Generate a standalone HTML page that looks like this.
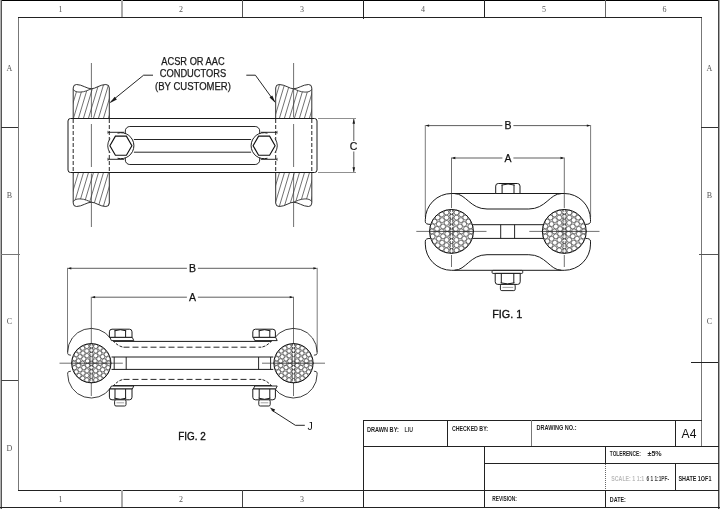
<!DOCTYPE html><html><head><meta charset="utf-8"><style>html,body{margin:0;padding:0;background:#fff;overflow:hidden;}svg{display:block;}</style></head><body><svg style="filter:grayscale(1)" width="720" height="509" viewBox="0 0 720 509"><defs><clipPath id="hTL"><path d="M73.2,118.5 V90 C74.5,91.6 77,92.1 80,92.1 C85,92.1 88.5,89.8 91.4,88.8 C95.5,88.8 100,84.5 105.8,84.5 Q109.3,84.5 109.3,88 V118.5 Z" /></clipPath><clipPath id="hBL"><path d="M73.2,118.5 V90 C74.5,91.6 77,92.1 80,92.1 C85,92.1 88.5,89.8 91.4,88.8 C95.5,88.8 100,84.5 105.8,84.5 Q109.3,84.5 109.3,88 V118.5 Z" transform="matrix(1,0,0,-1,0,291.0)"/></clipPath><clipPath id="hTR"><path d="M73.2,118.5 V90 C74.5,91.6 77,92.1 80,92.1 C85,92.1 88.5,89.8 91.4,88.8 C95.5,88.8 100,84.5 105.8,84.5 Q109.3,84.5 109.3,88 V118.5 Z" transform="matrix(-1,0,0,1,385.0,0)"/></clipPath><clipPath id="hBR"><path d="M73.2,118.5 V90 C74.5,91.6 77,92.1 80,92.1 C85,92.1 88.5,89.8 91.4,88.8 C95.5,88.8 100,84.5 105.8,84.5 Q109.3,84.5 109.3,88 V118.5 Z" transform="matrix(-1,0,0,-1,385.0,291.0)"/></clipPath></defs><rect width="720" height="509" fill="#fff"/><rect x="0" y="0" width="720" height="1" fill="#000"/>
<rect x="0" y="0" width="1" height="509" fill="#b0b0b0"/>
<rect x="1" y="0" width="1" height="509" fill="#555"/>
<rect x="718" y="0" width="1" height="509" fill="#444"/>
<rect x="719" y="0" width="1" height="509" fill="#aaa"/>
<rect x="0" y="507" width="720" height="1" fill="#222"/>
<rect x="18" y="17" width="1" height="474" fill="#777"/>
<rect x="701" y="17" width="1" height="430" fill="#777"/>
<rect x="18" y="17" width="684" height="1" fill="#222"/>
<rect x="18" y="490" width="701" height="1" fill="#222"/>
<rect x="121" y="0" width="2" height="17" fill="#aaa"/>
<rect x="242" y="0" width="1" height="17" fill="#555"/>
<rect x="363" y="0" width="1" height="19" fill="#222"/>
<rect x="484" y="0" width="1" height="17" fill="#222"/>
<rect x="605" y="0" width="1" height="17" fill="#666"/>
<rect x="121" y="490" width="2" height="17" fill="#aaa"/>
<rect x="242" y="490" width="1" height="17" fill="#444"/>
<rect x="1" y="127" width="17" height="1" fill="#333"/>
<rect x="1" y="254" width="19" height="1" fill="#777"/>
<rect x="1" y="380" width="17" height="1" fill="#444"/>
<rect x="701" y="127" width="17" height="1" fill="#333"/>
<rect x="699" y="254" width="19" height="1" fill="#555"/>
<rect x="691" y="362" width="27" height="1" fill="#222"/>
<text x="60.5" y="12" font-family="Liberation Serif" font-size="8" text-anchor="middle" fill="#555" font-weight="normal" >1</text>
<text x="181" y="12" font-family="Liberation Serif" font-size="8" text-anchor="middle" fill="#555" font-weight="normal" >2</text>
<text x="302" y="12" font-family="Liberation Serif" font-size="8" text-anchor="middle" fill="#555" font-weight="normal" >3</text>
<text x="423" y="12" font-family="Liberation Serif" font-size="8" text-anchor="middle" fill="#555" font-weight="normal" >4</text>
<text x="544" y="12" font-family="Liberation Serif" font-size="8" text-anchor="middle" fill="#555" font-weight="normal" >5</text>
<text x="664.5" y="12" font-family="Liberation Serif" font-size="8" text-anchor="middle" fill="#555" font-weight="normal" >6</text>
<text x="60.5" y="502" font-family="Liberation Serif" font-size="8" text-anchor="middle" fill="#555" font-weight="normal" >1</text>
<text x="181" y="502" font-family="Liberation Serif" font-size="8" text-anchor="middle" fill="#555" font-weight="normal" >2</text>
<text x="302" y="502" font-family="Liberation Serif" font-size="8" text-anchor="middle" fill="#555" font-weight="normal" >3</text>
<text x="9.5" y="71" font-family="Liberation Serif" font-size="8" text-anchor="middle" fill="#555" font-weight="normal" >A</text>
<text x="9.5" y="197.5" font-family="Liberation Serif" font-size="8" text-anchor="middle" fill="#555" font-weight="normal" >B</text>
<text x="9.5" y="324" font-family="Liberation Serif" font-size="8" text-anchor="middle" fill="#555" font-weight="normal" >C</text>
<text x="9.5" y="451" font-family="Liberation Serif" font-size="8" text-anchor="middle" fill="#555" font-weight="normal" >D</text>
<text x="709.5" y="71" font-family="Liberation Serif" font-size="8" text-anchor="middle" fill="#555" font-weight="normal" >A</text>
<text x="709.5" y="197.5" font-family="Liberation Serif" font-size="8" text-anchor="middle" fill="#555" font-weight="normal" >B</text>
<text x="709.5" y="324" font-family="Liberation Serif" font-size="8" text-anchor="middle" fill="#555" font-weight="normal" >C</text>
<rect x="363" y="420" width="339" height="1" fill="#222"/>
<rect x="363" y="420" width="1" height="88" fill="#222"/>
<rect x="447" y="420" width="1" height="26" fill="#222"/>
<rect x="531" y="420" width="1" height="26" fill="#777"/>
<rect x="675" y="420" width="1" height="26" fill="#222"/>
<rect x="363" y="446" width="356" height="1" fill="#222"/>
<rect x="484" y="446" width="1" height="62" fill="#222"/>
<rect x="484" y="463" width="235" height="1" fill="#222"/>
<rect x="605" y="446" width="1" height="18" fill="#222"/>
<rect x="605" y="490" width="1" height="18" fill="#222"/>
<rect x="675" y="463" width="1" height="27" fill="#222"/>
<line x1="605.5" y1="464" x2="605.5" y2="490" stroke="#666" stroke-width="1" stroke-dasharray="1,1"/>
<text x="367" y="432.2" font-family="Liberation Sans" font-size="6.3" text-anchor="start" fill="#1e1e1e" font-weight="bold" textLength="31.8" lengthAdjust="spacingAndGlyphs" >DRAWN BY:</text>
<text x="404.5" y="432.2" font-family="Liberation Sans" font-size="6.3" text-anchor="start" fill="#444" font-weight="bold" textLength="8.5" lengthAdjust="spacingAndGlyphs" >LIU</text>
<text x="452" y="431.3" font-family="Liberation Sans" font-size="6.3" text-anchor="start" fill="#1e1e1e" font-weight="bold" textLength="36" lengthAdjust="spacingAndGlyphs" >CHECKED BY:</text>
<text x="536.5" y="430.2" font-family="Liberation Sans" font-size="6.3" text-anchor="start" fill="#1e1e1e" font-weight="bold" textLength="40" lengthAdjust="spacingAndGlyphs" >DRAWING NO.:</text>
<text x="681.6" y="438.3" font-family="Liberation Sans" font-size="12.8" text-anchor="start" fill="#111" font-weight="normal" textLength="14.8" lengthAdjust="spacingAndGlyphs" >A4</text>
<text x="609.8" y="455.9" font-family="Liberation Sans" font-size="6.3" text-anchor="start" fill="#1e1e1e" font-weight="bold" textLength="31" lengthAdjust="spacingAndGlyphs" >TOLERENCE:</text>
<text x="647.5" y="455.9" font-family="Liberation Sans" font-size="6.3" text-anchor="start" fill="#1e1e1e" font-weight="bold" textLength="14.2" lengthAdjust="spacingAndGlyphs" >±5%</text>
<text x="678.4" y="481.4" font-family="Liberation Sans" font-size="7.6" text-anchor="start" fill="#1e1e1e" font-weight="bold" textLength="33" lengthAdjust="spacingAndGlyphs" >SHATE 1OF1</text>
<text x="611.3" y="481.2" font-family="Liberation Sans" font-size="6.4" text-anchor="start" fill="#bbb" font-weight="bold" textLength="33" lengthAdjust="spacingAndGlyphs" >SCALE: 1 1:1</text>
<text x="646.5" y="481.2" font-family="Liberation Sans" font-size="6.4" text-anchor="start" fill="#444" font-weight="bold" textLength="22.5" lengthAdjust="spacingAndGlyphs" >6 1 1:1PF-</text>
<text x="492.2" y="500.5" font-family="Liberation Sans" font-size="6.3" text-anchor="start" fill="#1e1e1e" font-weight="bold" textLength="24.8" lengthAdjust="spacingAndGlyphs" >REVISION:</text>
<text x="609.8" y="501.7" font-family="Liberation Sans" font-size="7.0" text-anchor="start" fill="#1e1e1e" font-weight="bold" textLength="16" lengthAdjust="spacingAndGlyphs" >DATE:</text>
<g ><path d="M73.2,118.5 V88 Q73.2,84.5 76.5,84.5 C82,84.5 87,88.8 91.4,88.8 C95.5,88.8 100,84.5 105.8,84.5 Q109.3,84.5 109.3,88 V118.5" stroke="#1a1a1a" stroke-width="0.9" fill="white"/><path d="M73.4,89.5 C74.5,91.6 77,92.1 80,92.1 C85,92.1 88.5,89.8 91.4,88.8" stroke="#1a1a1a" stroke-width="0.8" fill="none"/></g>
<g transform="matrix(1,0,0,-1,0,291.0)"><path d="M73.2,118.5 V88 Q73.2,84.5 76.5,84.5 C82,84.5 87,88.8 91.4,88.8 C95.5,88.8 100,84.5 105.8,84.5 Q109.3,84.5 109.3,88 V118.5" stroke="#1a1a1a" stroke-width="0.9" fill="white"/><path d="M73.4,89.5 C74.5,91.6 77,92.1 80,92.1 C85,92.1 88.5,89.8 91.4,88.8" stroke="#1a1a1a" stroke-width="0.8" fill="none"/></g>
<g transform="matrix(-1,0,0,1,385.0,0)"><path d="M73.2,118.5 V88 Q73.2,84.5 76.5,84.5 C82,84.5 87,88.8 91.4,88.8 C95.5,88.8 100,84.5 105.8,84.5 Q109.3,84.5 109.3,88 V118.5" stroke="#1a1a1a" stroke-width="0.9" fill="white"/><path d="M73.4,89.5 C74.5,91.6 77,92.1 80,92.1 C85,92.1 88.5,89.8 91.4,88.8" stroke="#1a1a1a" stroke-width="0.8" fill="none"/></g>
<g transform="matrix(-1,0,0,-1,385.0,291.0)"><path d="M73.2,118.5 V88 Q73.2,84.5 76.5,84.5 C82,84.5 87,88.8 91.4,88.8 C95.5,88.8 100,84.5 105.8,84.5 Q109.3,84.5 109.3,88 V118.5" stroke="#1a1a1a" stroke-width="0.9" fill="white"/><path d="M73.4,89.5 C74.5,91.6 77,92.1 80,92.1 C85,92.1 88.5,89.8 91.4,88.8" stroke="#1a1a1a" stroke-width="0.8" fill="none"/></g>
<path d="M63.40,118.5 L73.75,84 M68.40,118.5 L78.75,84 M73.40,118.5 L83.75,84 M78.40,118.5 L88.75,84 M83.40,118.5 L93.75,84 M88.40,118.5 L98.75,84 M93.40,118.5 L103.75,84 M98.40,118.5 L108.75,84 M103.40,118.5 L113.75,84 M108.40,118.5 L118.75,84" stroke="#333" stroke-width="0.7" clip-path="url(#hTL)"/>
<path d="M63.15,207 L73.50,172.5 M68.15,207 L78.50,172.5 M73.15,207 L83.50,172.5 M78.15,207 L88.50,172.5 M83.15,207 L93.50,172.5 M88.15,207 L98.50,172.5 M93.15,207 L103.50,172.5 M98.15,207 L108.50,172.5 M103.15,207 L113.50,172.5 M108.15,207 L118.50,172.5" stroke="#333" stroke-width="0.7" clip-path="url(#hBL)"/>
<path d="M264.35,118.5 L274.70,84 M269.35,118.5 L279.70,84 M274.35,118.5 L284.70,84 M279.35,118.5 L289.70,84 M284.35,118.5 L294.70,84 M289.35,118.5 L299.70,84 M294.35,118.5 L304.70,84 M299.35,118.5 L309.70,84 M304.35,118.5 L314.70,84 M309.35,118.5 L319.70,84" stroke="#333" stroke-width="0.7" clip-path="url(#hTR)"/>
<path d="M264.15,207 L274.50,172.5 M269.15,207 L279.50,172.5 M274.15,207 L284.50,172.5 M279.15,207 L289.50,172.5 M284.15,207 L294.50,172.5 M289.15,207 L299.50,172.5 M294.15,207 L304.50,172.5 M299.15,207 L309.50,172.5 M304.15,207 L314.50,172.5 M309.15,207 L319.50,172.5" stroke="#333" stroke-width="0.7" clip-path="url(#hBR)"/>
<line x1="91.4" y1="63" x2="91.4" y2="117.5" stroke="#333" stroke-width="0.7"/>
<line x1="91.4" y1="124" x2="91.4" y2="167" stroke="#333" stroke-width="0.7"/>
<line x1="91.4" y1="173.5" x2="91.4" y2="227" stroke="#333" stroke-width="0.7"/>
<line x1="293.6" y1="63" x2="293.6" y2="117.5" stroke="#333" stroke-width="0.7"/>
<line x1="293.6" y1="124" x2="293.6" y2="167" stroke="#333" stroke-width="0.7"/>
<line x1="293.6" y1="173.5" x2="293.6" y2="227" stroke="#333" stroke-width="0.7"/>
<rect x="68" y="118.5" width="249" height="54" rx="2.5" stroke="#1a1a1a" stroke-width="1.0" fill="none"/>
<line x1="73.2" y1="119" x2="73.2" y2="172" stroke="#1a1a1a" stroke-width="0.95" stroke-dasharray="4,2"/>
<line x1="109.3" y1="119" x2="109.3" y2="172" stroke="#1a1a1a" stroke-width="0.95" stroke-dasharray="4,2"/>
<line x1="275.7" y1="119" x2="275.7" y2="172" stroke="#1a1a1a" stroke-width="0.95" stroke-dasharray="4,2"/>
<line x1="311.8" y1="119" x2="311.8" y2="172" stroke="#1a1a1a" stroke-width="0.95" stroke-dasharray="4,2"/>
<rect x="125.3" y="126.5" width="134.4" height="38" rx="4.5" stroke="#1a1a1a" stroke-width="0.95" fill="none"/>
<circle cx="120.9" cy="145.7" r="13" fill="white" stroke="none"/>
<path d="M117.54,133.14 A13,13 0 1 1 117.54,158.26" stroke="#1a1a1a" stroke-width="1.0" fill="none" />
<path d="M110.00,152.78 A13,13 0 0 1 110.00,138.62" stroke="#1a1a1a" stroke-width="0.9" fill="none" />
<polygon points="131.90,145.70 126.40,155.23 115.40,155.23 109.90,145.70 115.40,136.17 126.40,136.17" stroke="#111" stroke-width="1.15" fill="none"/>
<line x1="107.9" y1="132.3" x2="124.10000000000001" y2="132.3" stroke="#1a1a1a" stroke-width="0.95"/>
<line x1="107.9" y1="159.3" x2="124.10000000000001" y2="159.3" stroke="#1a1a1a" stroke-width="0.95"/>
<line x1="107.9" y1="130.8" x2="107.9" y2="133.8" stroke="#1a1a1a" stroke-width="0.6"/>
<line x1="107.9" y1="157.8" x2="107.9" y2="160.8" stroke="#1a1a1a" stroke-width="0.6"/>
<circle cx="264.1" cy="145.7" r="13" fill="white" stroke="none"/>
<path d="M267.46,133.14 A13,13 0 1 0 267.46,158.26" stroke="#1a1a1a" stroke-width="1.0" fill="none" />
<path d="M275.00,152.78 A13,13 0 0 0 275.00,138.62" stroke="#1a1a1a" stroke-width="0.9" fill="none" />
<polygon points="275.10,145.70 269.60,155.23 258.60,155.23 253.10,145.70 258.60,136.17 269.60,136.17" stroke="#111" stroke-width="1.15" fill="none"/>
<line x1="277.1" y1="132.3" x2="260.90000000000003" y2="132.3" stroke="#1a1a1a" stroke-width="0.95"/>
<line x1="277.1" y1="159.3" x2="260.90000000000003" y2="159.3" stroke="#1a1a1a" stroke-width="0.95"/>
<line x1="277.1" y1="130.8" x2="277.1" y2="133.8" stroke="#1a1a1a" stroke-width="0.6"/>
<line x1="277.1" y1="157.8" x2="277.1" y2="160.8" stroke="#1a1a1a" stroke-width="0.6"/>
<line x1="133.9" y1="139.5" x2="251.1" y2="139.5" stroke="#1a1a1a" stroke-width="0.95"/>
<line x1="133.9" y1="152.2" x2="251.1" y2="152.2" stroke="#1a1a1a" stroke-width="0.95"/>
<path d="M153,75.2 L143.6,75.2 L110.5,102" stroke="#1a1a1a" stroke-width="0.95" fill="none" />
<path d="M109.60,103.20 L114.69,96.80 L116.86,99.43 Z" fill="#1a1a1a" stroke="none"/>
<path d="M246.3,75.2 L255.4,75.2 L274.6,101.7" stroke="#1a1a1a" stroke-width="0.95" fill="none" />
<path d="M275.60,103.00 L269.52,97.53 L272.27,95.53 Z" fill="#1a1a1a" stroke="none"/>
<text x="193" y="64.7" font-family="Liberation Sans" font-size="10" text-anchor="middle" fill="#1a1a1a" font-weight="normal" textLength="63.4" lengthAdjust="spacingAndGlyphs" stroke="#1a1a1a" stroke-width="0.25">ACSR OR AAC</text>
<text x="193" y="77.4" font-family="Liberation Sans" font-size="10" text-anchor="middle" fill="#1a1a1a" font-weight="normal" textLength="66.6" lengthAdjust="spacingAndGlyphs" stroke="#1a1a1a" stroke-width="0.25">CONDUCTORS</text>
<text x="193" y="89.9" font-family="Liberation Sans" font-size="10" text-anchor="middle" fill="#1a1a1a" font-weight="normal" textLength="75.8" lengthAdjust="spacingAndGlyphs" stroke="#1a1a1a" stroke-width="0.25">(BY CUSTOMER)</text>
<line x1="318" y1="118.5" x2="356" y2="118.5" stroke="#444" stroke-width="0.6"/>
<line x1="318" y1="172.5" x2="356" y2="172.5" stroke="#444" stroke-width="0.6"/>
<line x1="353.8" y1="119" x2="353.8" y2="141" stroke="#1a1a1a" stroke-width="0.7"/>
<line x1="353.8" y1="151.5" x2="353.8" y2="172" stroke="#1a1a1a" stroke-width="0.7"/>
<path d="M353.80,118.80 L355.10,123.80 L352.50,123.80 Z" fill="#1a1a1a" stroke="none"/>
<path d="M353.80,172.20 L352.50,167.20 L355.10,167.20 Z" fill="#1a1a1a" stroke="none"/>
<text x="353.6" y="150.4" font-family="Liberation Sans" font-size="10.5" text-anchor="middle" fill="#111" font-weight="normal" stroke="#111" stroke-width="0.2">C</text>
<line x1="426.3" y1="125.6" x2="502.4" y2="125.6" stroke="#1a1a1a" stroke-width="0.7"/>
<line x1="513.4" y1="125.6" x2="589.6" y2="125.6" stroke="#1a1a1a" stroke-width="0.7"/>
<path d="M425.30,125.60 L429.10,124.45 L429.10,126.75 Z" fill="#1a1a1a" stroke="none"/>
<path d="M590.60,125.60 L586.80,126.75 L586.80,124.45 Z" fill="#1a1a1a" stroke="none"/>
<text x="507.9" y="129.4" font-family="Liberation Sans" font-size="10.5" text-anchor="middle" fill="#111" font-weight="normal" stroke="#111" stroke-width="0.25">B</text>
<line x1="452.5" y1="158" x2="502.4" y2="158" stroke="#1a1a1a" stroke-width="0.7"/>
<line x1="513.4" y1="158" x2="563.3" y2="158" stroke="#1a1a1a" stroke-width="0.7"/>
<path d="M451.50,158.00 L455.30,156.85 L455.30,159.15 Z" fill="#1a1a1a" stroke="none"/>
<path d="M564.30,158.00 L560.50,159.15 L560.50,156.85 Z" fill="#1a1a1a" stroke="none"/>
<text x="507.9" y="161.8" font-family="Liberation Sans" font-size="10.5" text-anchor="middle" fill="#111" font-weight="normal" stroke="#111" stroke-width="0.25">A</text>
<line x1="425.3" y1="125" x2="425.3" y2="217" stroke="#444" stroke-width="0.7"/>
<line x1="590.6" y1="125" x2="590.6" y2="217" stroke="#444" stroke-width="0.7"/>
<line x1="451.5" y1="157.5" x2="451.5" y2="208" stroke="#333" stroke-width="0.7"/>
<line x1="451.5" y1="255" x2="451.5" y2="267" stroke="#333" stroke-width="0.7"/>
<line x1="564.3" y1="157.5" x2="564.3" y2="208" stroke="#333" stroke-width="0.7"/>
<line x1="564.3" y1="255" x2="564.3" y2="267" stroke="#333" stroke-width="0.7"/>
<path d="M451.5,193.5 L564.3,193.5 M451.5,193.5 A26.2,26.2 0 0 0 425.3,219.7 L425.3,221.6 Q425.3,224.4 430.3,224.4 M564.3,193.5 A26.2,26.2 0 0 1 590.5,219.7 L590.5,221.6 Q590.5,224.4 585.5,224.4 M454.5,193.6 C466,193.6 470,209 487,209 L528.8,209 C545.8,209 549.8,193.6 561.3,193.6 M472.5,224.7 L543.3,224.7" stroke="#1a1a1a" stroke-width="1.0" fill="none" />
<path d="M451.5,270.3 L564.3,270.3 M451.5,270.3 A26.2,26.2 0 0 1 425.3,244.10000000000002 L425.3,241.20000000000002 Q425.3,238.4 430.3,238.4 M564.3,270.3 A26.2,26.2 0 0 0 590.5,244.10000000000002 L590.5,241.20000000000002 Q590.5,238.4 585.5,238.4 M454.5,270.2 C466,270.2 470,254.7 487,254.7 L528.8,254.7 C545.8,254.7 549.8,270.2 561.3,270.2 M472.5,238.4 L543.3,238.4" stroke="#1a1a1a" stroke-width="1.0" fill="none" />
<line x1="500.7" y1="224.7" x2="500.7" y2="238.4" stroke="#1a1a1a" stroke-width="0.95"/>
<line x1="514.6" y1="224.7" x2="514.6" y2="238.4" stroke="#1a1a1a" stroke-width="0.95"/>
<line x1="416.3" y1="231.4" x2="486.5" y2="231.4" stroke="#333" stroke-width="0.7"/>
<line x1="529.3" y1="231.4" x2="599.5" y2="231.4" stroke="#333" stroke-width="0.7"/>
<circle cx="451.5" cy="231.4" r="21.9" fill="#dddddd" stroke="none"/>
<g fill="white" stroke="#000" stroke-width="0.45"><circle cx="451.5" cy="231.4" r="2.4"/><circle cx="451.50" cy="226.50" r="2.4"/><circle cx="455.74" cy="228.95" r="2.4"/><circle cx="455.74" cy="233.85" r="2.4"/><circle cx="451.50" cy="236.30" r="2.4"/><circle cx="447.26" cy="233.85" r="2.4"/><circle cx="447.26" cy="228.95" r="2.4"/><circle cx="451.50" cy="221.60" r="2.4"/><circle cx="456.40" cy="222.91" r="2.4"/><circle cx="459.99" cy="226.50" r="2.4"/><circle cx="461.30" cy="231.40" r="2.4"/><circle cx="459.99" cy="236.30" r="2.4"/><circle cx="456.40" cy="239.89" r="2.4"/><circle cx="451.50" cy="241.20" r="2.4"/><circle cx="446.60" cy="239.89" r="2.4"/><circle cx="443.01" cy="236.30" r="2.4"/><circle cx="441.70" cy="231.40" r="2.4"/><circle cx="443.01" cy="226.50" r="2.4"/><circle cx="446.60" cy="222.91" r="2.4"/><circle cx="451.50" cy="216.70" r="2.4"/><circle cx="456.53" cy="217.59" r="2.4"/><circle cx="460.95" cy="220.14" r="2.4"/><circle cx="464.23" cy="224.05" r="2.4"/><circle cx="465.98" cy="228.85" r="2.4"/><circle cx="465.98" cy="233.95" r="2.4"/><circle cx="464.23" cy="238.75" r="2.4"/><circle cx="460.95" cy="242.66" r="2.4"/><circle cx="456.53" cy="245.21" r="2.4"/><circle cx="451.50" cy="246.10" r="2.4"/><circle cx="446.47" cy="245.21" r="2.4"/><circle cx="442.05" cy="242.66" r="2.4"/><circle cx="438.77" cy="238.75" r="2.4"/><circle cx="437.02" cy="233.95" r="2.4"/><circle cx="437.02" cy="228.85" r="2.4"/><circle cx="438.77" cy="224.05" r="2.4"/><circle cx="442.05" cy="220.14" r="2.4"/><circle cx="446.47" cy="217.59" r="2.4"/><circle cx="451.50" cy="211.80" r="2.4"/><circle cx="456.57" cy="212.47" r="2.4"/><circle cx="461.30" cy="214.43" r="2.4"/><circle cx="465.36" cy="217.54" r="2.4"/><circle cx="468.47" cy="221.60" r="2.4"/><circle cx="470.43" cy="226.33" r="2.4"/><circle cx="471.10" cy="231.40" r="2.4"/><circle cx="470.43" cy="236.47" r="2.4"/><circle cx="468.47" cy="241.20" r="2.4"/><circle cx="465.36" cy="245.26" r="2.4"/><circle cx="461.30" cy="248.37" r="2.4"/><circle cx="456.57" cy="250.33" r="2.4"/><circle cx="451.50" cy="251.00" r="2.4"/><circle cx="446.43" cy="250.33" r="2.4"/><circle cx="441.70" cy="248.37" r="2.4"/><circle cx="437.64" cy="245.26" r="2.4"/><circle cx="434.53" cy="241.20" r="2.4"/><circle cx="432.57" cy="236.47" r="2.4"/><circle cx="431.90" cy="231.40" r="2.4"/><circle cx="432.57" cy="226.33" r="2.4"/><circle cx="434.53" cy="221.60" r="2.4"/><circle cx="437.64" cy="217.54" r="2.4"/><circle cx="441.70" cy="214.43" r="2.4"/><circle cx="446.43" cy="212.47" r="2.4"/></g>
<circle cx="451.5" cy="231.4" r="21.9" fill="none" stroke="#000" stroke-width="0.9"/>
<line x1="429.1" y1="231.4" x2="473.9" y2="231.4" stroke="#222" stroke-width="0.8"/>
<line x1="450.5" y1="209.5" x2="450.5" y2="253.3" stroke="#222" stroke-width="0.55" stroke-dasharray="2.6,0.9"/>
<line x1="452.5" y1="209.5" x2="452.5" y2="253.3" stroke="#222" stroke-width="0.55" stroke-dasharray="2.6,0.9"/>
<circle cx="564.3" cy="231.4" r="21.9" fill="#dddddd" stroke="none"/>
<g fill="white" stroke="#000" stroke-width="0.45"><circle cx="564.3" cy="231.4" r="2.4"/><circle cx="564.30" cy="226.50" r="2.4"/><circle cx="568.54" cy="228.95" r="2.4"/><circle cx="568.54" cy="233.85" r="2.4"/><circle cx="564.30" cy="236.30" r="2.4"/><circle cx="560.06" cy="233.85" r="2.4"/><circle cx="560.06" cy="228.95" r="2.4"/><circle cx="564.30" cy="221.60" r="2.4"/><circle cx="569.20" cy="222.91" r="2.4"/><circle cx="572.79" cy="226.50" r="2.4"/><circle cx="574.10" cy="231.40" r="2.4"/><circle cx="572.79" cy="236.30" r="2.4"/><circle cx="569.20" cy="239.89" r="2.4"/><circle cx="564.30" cy="241.20" r="2.4"/><circle cx="559.40" cy="239.89" r="2.4"/><circle cx="555.81" cy="236.30" r="2.4"/><circle cx="554.50" cy="231.40" r="2.4"/><circle cx="555.81" cy="226.50" r="2.4"/><circle cx="559.40" cy="222.91" r="2.4"/><circle cx="564.30" cy="216.70" r="2.4"/><circle cx="569.33" cy="217.59" r="2.4"/><circle cx="573.75" cy="220.14" r="2.4"/><circle cx="577.03" cy="224.05" r="2.4"/><circle cx="578.78" cy="228.85" r="2.4"/><circle cx="578.78" cy="233.95" r="2.4"/><circle cx="577.03" cy="238.75" r="2.4"/><circle cx="573.75" cy="242.66" r="2.4"/><circle cx="569.33" cy="245.21" r="2.4"/><circle cx="564.30" cy="246.10" r="2.4"/><circle cx="559.27" cy="245.21" r="2.4"/><circle cx="554.85" cy="242.66" r="2.4"/><circle cx="551.57" cy="238.75" r="2.4"/><circle cx="549.82" cy="233.95" r="2.4"/><circle cx="549.82" cy="228.85" r="2.4"/><circle cx="551.57" cy="224.05" r="2.4"/><circle cx="554.85" cy="220.14" r="2.4"/><circle cx="559.27" cy="217.59" r="2.4"/><circle cx="564.30" cy="211.80" r="2.4"/><circle cx="569.37" cy="212.47" r="2.4"/><circle cx="574.10" cy="214.43" r="2.4"/><circle cx="578.16" cy="217.54" r="2.4"/><circle cx="581.27" cy="221.60" r="2.4"/><circle cx="583.23" cy="226.33" r="2.4"/><circle cx="583.90" cy="231.40" r="2.4"/><circle cx="583.23" cy="236.47" r="2.4"/><circle cx="581.27" cy="241.20" r="2.4"/><circle cx="578.16" cy="245.26" r="2.4"/><circle cx="574.10" cy="248.37" r="2.4"/><circle cx="569.37" cy="250.33" r="2.4"/><circle cx="564.30" cy="251.00" r="2.4"/><circle cx="559.23" cy="250.33" r="2.4"/><circle cx="554.50" cy="248.37" r="2.4"/><circle cx="550.44" cy="245.26" r="2.4"/><circle cx="547.33" cy="241.20" r="2.4"/><circle cx="545.37" cy="236.47" r="2.4"/><circle cx="544.70" cy="231.40" r="2.4"/><circle cx="545.37" cy="226.33" r="2.4"/><circle cx="547.33" cy="221.60" r="2.4"/><circle cx="550.44" cy="217.54" r="2.4"/><circle cx="554.50" cy="214.43" r="2.4"/><circle cx="559.23" cy="212.47" r="2.4"/></g>
<circle cx="564.3" cy="231.4" r="21.9" fill="none" stroke="#000" stroke-width="0.9"/>
<line x1="541.9" y1="231.4" x2="586.6999999999999" y2="231.4" stroke="#222" stroke-width="0.8"/>
<line x1="563.3" y1="209.5" x2="563.3" y2="253.3" stroke="#222" stroke-width="0.55" stroke-dasharray="2.6,0.9"/>
<line x1="565.3" y1="209.5" x2="565.3" y2="253.3" stroke="#222" stroke-width="0.55" stroke-dasharray="2.6,0.9"/>
<path d="M495.7,193.5 L495.7,186.1 Q495.7,183.5 498.3,183.5 L517.4,183.5 Q520,183.5 520,186.1 L520,193.5 Z M502.1,184.7 L502.1,193.5 M514.0,184.7 L514.0,193.5 M501.5,185.1 Q508.05,182.9 514.6,185.1" fill="white" stroke="#1a1a1a" stroke-width="1.0"/>
<rect x="492.1" y="270.4" width="30.6" height="3" rx="0.8" fill="white" stroke="#1a1a1a" stroke-width="0.95"/>
<path d="M495.2,273.4 L495.2,281.79999999999995 Q495.2,284.4 497.8,284.4 L517.6,284.4 Q520.2,284.4 520.2,281.79999999999995 L520.2,273.4 Z M501.3,283.2 L501.3,273.4 M513.8,283.2 L513.8,273.4 M500.7,282.79999999999995 Q507.54999999999995,285.0 514.4,282.79999999999995" fill="white" stroke="#1a1a1a" stroke-width="1.0"/>
<rect x="500.4" y="284.4" width="14.8" height="6.2" rx="1.4" fill="white" stroke="#1a1a1a" stroke-width="0.95"/>
<line x1="502.5" y1="287.4" x2="513.2" y2="287.4" stroke="#999" stroke-width="0.9"/>
<text x="492.2" y="317.8" font-family="Liberation Sans" font-size="11.7" text-anchor="start" fill="#111" font-weight="normal" textLength="30" lengthAdjust="spacingAndGlyphs" stroke="#111" stroke-width="0.35">FIG. 1</text>
<line x1="68.5" y1="268.3" x2="186.9" y2="268.3" stroke="#1a1a1a" stroke-width="0.7"/>
<line x1="197.9" y1="268.3" x2="316.2" y2="268.3" stroke="#1a1a1a" stroke-width="0.7"/>
<path d="M67.50,268.30 L71.30,267.15 L71.30,269.45 Z" fill="#1a1a1a" stroke="none"/>
<path d="M317.20,268.30 L313.40,269.45 L313.40,267.15 Z" fill="#1a1a1a" stroke="none"/>
<text x="192.4" y="272.1" font-family="Liberation Sans" font-size="10.5" text-anchor="middle" fill="#111" font-weight="normal" stroke="#111" stroke-width="0.25">B</text>
<line x1="92.3" y1="297.2" x2="186.9" y2="297.2" stroke="#1a1a1a" stroke-width="0.7"/>
<line x1="197.9" y1="297.2" x2="292.5" y2="297.2" stroke="#1a1a1a" stroke-width="0.7"/>
<path d="M91.30,297.20 L95.10,296.05 L95.10,298.35 Z" fill="#1a1a1a" stroke="none"/>
<path d="M293.50,297.20 L289.70,298.35 L289.70,296.05 Z" fill="#1a1a1a" stroke="none"/>
<text x="192.4" y="301.0" font-family="Liberation Sans" font-size="10.5" text-anchor="middle" fill="#111" font-weight="normal" stroke="#111" stroke-width="0.25">A</text>
<line x1="67.5" y1="267.8" x2="67.5" y2="352" stroke="#444" stroke-width="0.7"/>
<line x1="317.2" y1="267.8" x2="317.2" y2="352" stroke="#444" stroke-width="0.7"/>
<line x1="91.3" y1="296.7" x2="91.3" y2="345" stroke="#333" stroke-width="0.7"/>
<line x1="91.3" y1="382" x2="91.3" y2="396" stroke="#333" stroke-width="0.7"/>
<line x1="293.5" y1="296.7" x2="293.5" y2="345" stroke="#333" stroke-width="0.7"/>
<line x1="293.5" y1="382" x2="293.5" y2="396" stroke="#333" stroke-width="0.7"/>
<path d="M110.63,338.46 A23.6,23.6 0 0 0 67.70,352.00 L67.70,353.50 Q67.70,355.20 70.90,355.20 M110.63,387.94 A23.6,23.6 0 0 1 67.70,374.40 L67.70,372.90 Q67.70,371.20 70.90,371.20 M274.17,338.46 A23.6,23.6 0 0 1 317.10,352.00 L317.10,353.50 Q317.10,355.20 313.90,355.20 M274.17,387.94 A23.6,23.6 0 0 0 317.10,374.40 L317.10,372.90 Q317.10,371.20 313.90,371.20 " stroke="#1a1a1a" stroke-width="0.85" fill="none" />
<line x1="113.5" y1="341.4" x2="271.3" y2="341.4" stroke="#1a1a1a" stroke-width="1.0"/>
<line x1="111.5" y1="357.0" x2="273.3" y2="357.0" stroke="#1a1a1a" stroke-width="1.0"/>
<line x1="111.5" y1="369.4" x2="273.3" y2="369.4" stroke="#1a1a1a" stroke-width="1.0"/>
<line x1="113.5" y1="385.6" x2="271.3" y2="385.6" stroke="#1a1a1a" stroke-width="1.0"/>
<line x1="123.5" y1="347.2" x2="261.3" y2="347.2" stroke="#1a1a1a" stroke-width="0.95" stroke-dasharray="6,3"/>
<line x1="123.5" y1="379.4" x2="261.3" y2="379.4" stroke="#1a1a1a" stroke-width="0.95" stroke-dasharray="6,3"/>
<path d="M112.6,340.4 C116,343.6 118.5,346.4 123.5,347.2 M272.20000000000005,340.4 C268.8,343.6 266.3,346.4 261.3,347.2" stroke="#1a1a1a" stroke-width="0.95" fill="none" stroke-dasharray="3,1.5"/>
<path d="M112.6,386.4 C116,383.2 118.5,380.2 123.5,379.4 M272.20000000000005,386.4 C268.8,383.2 266.3,380.2 261.3,379.4" stroke="#1a1a1a" stroke-width="0.95" fill="none" stroke-dasharray="3,1.5"/>
<line x1="114.2" y1="357" x2="114.2" y2="369.4" stroke="#1a1a1a" stroke-width="0.95"/>
<line x1="126.2" y1="357" x2="126.2" y2="369.4" stroke="#1a1a1a" stroke-width="0.95"/>
<line x1="270.6" y1="357" x2="270.6" y2="369.4" stroke="#1a1a1a" stroke-width="0.95"/>
<line x1="258.6" y1="357" x2="258.6" y2="369.4" stroke="#1a1a1a" stroke-width="0.95"/>
<line x1="59.5" y1="363.2" x2="122.8" y2="363.2" stroke="#333" stroke-width="0.7"/>
<line x1="262.0" y1="363.2" x2="325" y2="363.2" stroke="#333" stroke-width="0.7"/>
<circle cx="91.3" cy="363.2" r="19.6" fill="#dddddd" stroke="none"/>
<g fill="white" stroke="#000" stroke-width="0.45"><circle cx="91.3" cy="363.2" r="2.15"/><circle cx="91.30" cy="358.85" r="2.15"/><circle cx="95.07" cy="361.02" r="2.15"/><circle cx="95.07" cy="365.38" r="2.15"/><circle cx="91.30" cy="367.55" r="2.15"/><circle cx="87.53" cy="365.38" r="2.15"/><circle cx="87.53" cy="361.02" r="2.15"/><circle cx="91.30" cy="354.50" r="2.15"/><circle cx="95.65" cy="355.67" r="2.15"/><circle cx="98.83" cy="358.85" r="2.15"/><circle cx="100.00" cy="363.20" r="2.15"/><circle cx="98.83" cy="367.55" r="2.15"/><circle cx="95.65" cy="370.73" r="2.15"/><circle cx="91.30" cy="371.90" r="2.15"/><circle cx="86.95" cy="370.73" r="2.15"/><circle cx="83.77" cy="367.55" r="2.15"/><circle cx="82.60" cy="363.20" r="2.15"/><circle cx="83.77" cy="358.85" r="2.15"/><circle cx="86.95" cy="355.67" r="2.15"/><circle cx="91.30" cy="350.15" r="2.15"/><circle cx="95.76" cy="350.94" r="2.15"/><circle cx="99.69" cy="353.20" r="2.15"/><circle cx="102.60" cy="356.68" r="2.15"/><circle cx="104.15" cy="360.93" r="2.15"/><circle cx="104.15" cy="365.47" r="2.15"/><circle cx="102.60" cy="369.72" r="2.15"/><circle cx="99.69" cy="373.20" r="2.15"/><circle cx="95.76" cy="375.46" r="2.15"/><circle cx="91.30" cy="376.25" r="2.15"/><circle cx="86.84" cy="375.46" r="2.15"/><circle cx="82.91" cy="373.20" r="2.15"/><circle cx="80.00" cy="369.72" r="2.15"/><circle cx="78.45" cy="365.47" r="2.15"/><circle cx="78.45" cy="360.93" r="2.15"/><circle cx="80.00" cy="356.68" r="2.15"/><circle cx="82.91" cy="353.20" r="2.15"/><circle cx="86.84" cy="350.94" r="2.15"/><circle cx="91.30" cy="345.80" r="2.15"/><circle cx="95.80" cy="346.39" r="2.15"/><circle cx="100.00" cy="348.13" r="2.15"/><circle cx="103.60" cy="350.90" r="2.15"/><circle cx="106.37" cy="354.50" r="2.15"/><circle cx="108.11" cy="358.70" r="2.15"/><circle cx="108.70" cy="363.20" r="2.15"/><circle cx="108.11" cy="367.70" r="2.15"/><circle cx="106.37" cy="371.90" r="2.15"/><circle cx="103.60" cy="375.50" r="2.15"/><circle cx="100.00" cy="378.27" r="2.15"/><circle cx="95.80" cy="380.01" r="2.15"/><circle cx="91.30" cy="380.60" r="2.15"/><circle cx="86.80" cy="380.01" r="2.15"/><circle cx="82.60" cy="378.27" r="2.15"/><circle cx="79.00" cy="375.50" r="2.15"/><circle cx="76.23" cy="371.90" r="2.15"/><circle cx="74.49" cy="367.70" r="2.15"/><circle cx="73.90" cy="363.20" r="2.15"/><circle cx="74.49" cy="358.70" r="2.15"/><circle cx="76.23" cy="354.50" r="2.15"/><circle cx="79.00" cy="350.90" r="2.15"/><circle cx="82.60" cy="348.13" r="2.15"/><circle cx="86.80" cy="346.39" r="2.15"/></g>
<circle cx="91.3" cy="363.2" r="19.6" fill="none" stroke="#000" stroke-width="0.9"/>
<line x1="71.19999999999999" y1="363.2" x2="111.4" y2="363.2" stroke="#222" stroke-width="0.8"/>
<line x1="90.3" y1="343.59999999999997" x2="90.3" y2="382.8" stroke="#222" stroke-width="0.55" stroke-dasharray="2.6,0.9"/>
<line x1="92.3" y1="343.59999999999997" x2="92.3" y2="382.8" stroke="#222" stroke-width="0.55" stroke-dasharray="2.6,0.9"/>
<circle cx="293.5" cy="363.2" r="19.6" fill="#dddddd" stroke="none"/>
<g fill="white" stroke="#000" stroke-width="0.45"><circle cx="293.5" cy="363.2" r="2.15"/><circle cx="293.50" cy="358.85" r="2.15"/><circle cx="297.27" cy="361.02" r="2.15"/><circle cx="297.27" cy="365.38" r="2.15"/><circle cx="293.50" cy="367.55" r="2.15"/><circle cx="289.73" cy="365.38" r="2.15"/><circle cx="289.73" cy="361.02" r="2.15"/><circle cx="293.50" cy="354.50" r="2.15"/><circle cx="297.85" cy="355.67" r="2.15"/><circle cx="301.03" cy="358.85" r="2.15"/><circle cx="302.20" cy="363.20" r="2.15"/><circle cx="301.03" cy="367.55" r="2.15"/><circle cx="297.85" cy="370.73" r="2.15"/><circle cx="293.50" cy="371.90" r="2.15"/><circle cx="289.15" cy="370.73" r="2.15"/><circle cx="285.97" cy="367.55" r="2.15"/><circle cx="284.80" cy="363.20" r="2.15"/><circle cx="285.97" cy="358.85" r="2.15"/><circle cx="289.15" cy="355.67" r="2.15"/><circle cx="293.50" cy="350.15" r="2.15"/><circle cx="297.96" cy="350.94" r="2.15"/><circle cx="301.89" cy="353.20" r="2.15"/><circle cx="304.80" cy="356.68" r="2.15"/><circle cx="306.35" cy="360.93" r="2.15"/><circle cx="306.35" cy="365.47" r="2.15"/><circle cx="304.80" cy="369.72" r="2.15"/><circle cx="301.89" cy="373.20" r="2.15"/><circle cx="297.96" cy="375.46" r="2.15"/><circle cx="293.50" cy="376.25" r="2.15"/><circle cx="289.04" cy="375.46" r="2.15"/><circle cx="285.11" cy="373.20" r="2.15"/><circle cx="282.20" cy="369.72" r="2.15"/><circle cx="280.65" cy="365.47" r="2.15"/><circle cx="280.65" cy="360.93" r="2.15"/><circle cx="282.20" cy="356.68" r="2.15"/><circle cx="285.11" cy="353.20" r="2.15"/><circle cx="289.04" cy="350.94" r="2.15"/><circle cx="293.50" cy="345.80" r="2.15"/><circle cx="298.00" cy="346.39" r="2.15"/><circle cx="302.20" cy="348.13" r="2.15"/><circle cx="305.80" cy="350.90" r="2.15"/><circle cx="308.57" cy="354.50" r="2.15"/><circle cx="310.31" cy="358.70" r="2.15"/><circle cx="310.90" cy="363.20" r="2.15"/><circle cx="310.31" cy="367.70" r="2.15"/><circle cx="308.57" cy="371.90" r="2.15"/><circle cx="305.80" cy="375.50" r="2.15"/><circle cx="302.20" cy="378.27" r="2.15"/><circle cx="298.00" cy="380.01" r="2.15"/><circle cx="293.50" cy="380.60" r="2.15"/><circle cx="289.00" cy="380.01" r="2.15"/><circle cx="284.80" cy="378.27" r="2.15"/><circle cx="281.20" cy="375.50" r="2.15"/><circle cx="278.43" cy="371.90" r="2.15"/><circle cx="276.69" cy="367.70" r="2.15"/><circle cx="276.10" cy="363.20" r="2.15"/><circle cx="276.69" cy="358.70" r="2.15"/><circle cx="278.43" cy="354.50" r="2.15"/><circle cx="281.20" cy="350.90" r="2.15"/><circle cx="284.80" cy="348.13" r="2.15"/><circle cx="289.00" cy="346.39" r="2.15"/></g>
<circle cx="293.5" cy="363.2" r="19.6" fill="none" stroke="#000" stroke-width="0.9"/>
<line x1="273.4" y1="363.2" x2="313.6" y2="363.2" stroke="#222" stroke-width="0.8"/>
<line x1="292.5" y1="343.59999999999997" x2="292.5" y2="382.8" stroke="#222" stroke-width="0.55" stroke-dasharray="2.6,0.9"/>
<line x1="294.5" y1="343.59999999999997" x2="294.5" y2="382.8" stroke="#222" stroke-width="0.55" stroke-dasharray="2.6,0.9"/>
<path d="M109.4,337.4 L109.4,331.8 Q109.4,329.2 112.0,329.2 L129.4,329.2 Q132.0,329.2 132.0,331.8 L132.0,337.4 Z M115.0,330.4 L115.0,337.4 M125.6,330.4 L125.6,337.4 M114.4,330.8 Q120.3,328.59999999999997 126.19999999999999,330.8" fill="white" stroke="#1a1a1a" stroke-width="1.0"/>
<path d="M109.9,337.4 L132.3,337.4 L133.8,340.6 L111.4,340.6 Z" fill="white" stroke="#1a1a1a" stroke-width="0.95"/>
<path d="M109.9,389.0 L132.3,389.0 L133.8,386.0 L111.4,386.0 Z" fill="white" stroke="#1a1a1a" stroke-width="0.95"/>
<path d="M109.4,389.0 L109.4,397.2 Q109.4,399.8 112.0,399.8 L129.4,399.8 Q132.0,399.8 132.0,397.2 L132.0,389.0 Z M115.0,398.6 L115.0,389.0 M125.6,398.6 L125.6,389.0 M114.4,398.2 Q120.3,400.40000000000003 126.19999999999999,398.2" fill="white" stroke="#1a1a1a" stroke-width="1.0"/>
<rect x="114.6" y="399.8" width="11.399999999999995" height="6.2" rx="1.4" fill="white" stroke="#1a1a1a" stroke-width="0.95"/>
<line x1="116.5" y1="402.8" x2="124.1" y2="402.8" stroke="#999" stroke-width="0.9"/>
<path d="M252.8,337.4 L252.8,331.8 Q252.8,329.2 255.4,329.2 L272.79999999999995,329.2 Q275.4,329.2 275.4,331.8 L275.4,337.4 Z M259.20000000000005,330.4 L259.20000000000005,337.4 M269.8,330.4 L269.8,337.4 M258.6,330.8 Q264.5,328.59999999999997 270.40000000000003,330.8" fill="white" stroke="#1a1a1a" stroke-width="1.0"/>
<path d="M253.3,337.4 L275.7,337.4 L277.2,340.6 L254.8,340.6 Z" fill="white" stroke="#1a1a1a" stroke-width="0.95"/>
<path d="M253.3,389.0 L275.7,389.0 L277.2,386.0 L254.8,386.0 Z" fill="white" stroke="#1a1a1a" stroke-width="0.95"/>
<path d="M252.8,389.0 L252.8,397.2 Q252.8,399.8 255.4,399.8 L272.79999999999995,399.8 Q275.4,399.8 275.4,397.2 L275.4,389.0 Z M259.20000000000005,398.6 L259.20000000000005,389.0 M269.8,398.6 L269.8,389.0 M258.6,398.2 Q264.5,400.40000000000003 270.40000000000003,398.2" fill="white" stroke="#1a1a1a" stroke-width="1.0"/>
<rect x="258.80000000000007" y="399.8" width="11.399999999999967" height="6.2" rx="1.4" fill="white" stroke="#1a1a1a" stroke-width="0.95"/>
<line x1="260.70000000000005" y1="402.8" x2="268.3" y2="402.8" stroke="#999" stroke-width="0.9"/>
<path d="M271.5,410 L295.4,425.3 L304.8,425.3" stroke="#1a1a1a" stroke-width="0.95" fill="none" />
<path d="M269.80,407.60 L275.18,409.49 L273.47,411.96 Z" fill="#1a1a1a" stroke="none"/>
<text x="307.6" y="429.5" font-family="Liberation Sans" font-size="10.5" text-anchor="start" fill="#111" font-weight="normal" >J</text>
<text x="178.3" y="440.3" font-family="Liberation Sans" font-size="10.6" text-anchor="start" fill="#111" font-weight="normal" textLength="27.5" lengthAdjust="spacingAndGlyphs" stroke="#111" stroke-width="0.35">FIG. 2</text></svg></body></html>
